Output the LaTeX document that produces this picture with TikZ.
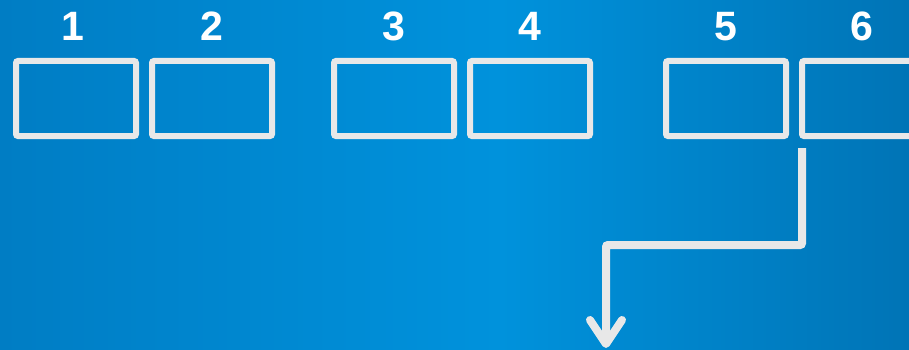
\documentclass[tikz,border=0pt]{standalone}
\usepackage{fontspec}
\setmainfont{Liberation Sans}
\usetikzlibrary{arrows.meta,positioning}
\definecolor{slotBlueLeft}{RGB}{0, 125, 196}
\definecolor{slotBlueMid}{RGB}{0, 146, 220}
\definecolor{slotBlueRight}{RGB}{0, 116, 182}
\definecolor{slotGrey}{RGB}{232, 232, 232}

\begin{document}
\begin{tikzpicture}[
  x=1pt,y=-1pt,
  slot/.style={
    draw=slotGrey,
    line width=6pt,
    rounded corners=2pt,
    minimum width=120pt,
    minimum height=75pt,
    inner sep=0pt,
    outer sep=0pt
  },
  num/.style={
    text=white,
    font=\fontsize{41}{41}\selectfont\bfseries,
    inner sep=0pt,
    outer sep=0pt
  },
  flow/.style={-{Straight Barb[length=24pt,width=32pt,round]},line width=8pt,slotGrey,rounded corners=2pt}
]
  \useasboundingbox (0,0) rectangle (909,350);
  \clip (0,0) rectangle (909,350);
  % background
  \shade[left color=slotBlueLeft,right color=slotBlueMid] (0,0) rectangle (500,350);
  \shade[left color=slotBlueMid,right color=slotBlueRight] (499.5,0) rectangle (909,350);

  \node[slot] (b1) at (76,98.5) {};
  \node[slot,right=16pt of b1] (b2) {};
  \node[slot,right=62pt of b2] (b3) {};
  \node[slot,right=16pt of b3] (b4) {};
  \node[slot,right=76pt of b4] (b5) {};
  \node[slot,right=16pt of b5] (b6) {};

  \node[num,above=20pt of b1,xshift=-3pt] (n1) {1};
  \node[num,above=20pt of b2] (n2) {2};
  \node[num,above=20pt of b3] (n3) {3};
  \node[num,above=20pt of b4] (n4) {4};
  \node[num,above=20pt of b5] (n5) {5};
  \node[num,above=20pt of b6] (n6) {6};

  \coordinate (tip) at (606,348);
  \draw[flow] ([yshift=-12pt]b6.south west) -- ++(0,-97pt) -| (tip);
\end{tikzpicture}
\end{document}
